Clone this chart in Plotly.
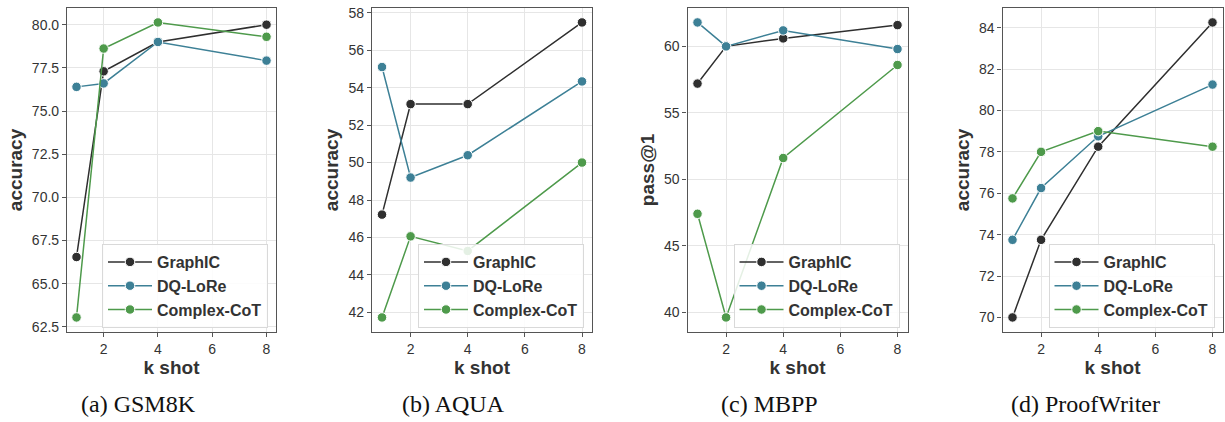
import plotly.graph_objects as go

W, H = 1225, 422

k_shot = [1, 2, 4, 8]
series_names = ["GraphIC", "DQ-LoRe", "Complex-CoT"]
colors = ["#2f2f2f", "#3d8096", "#4e9a4b"]

gsm8k_graphic = [66.55, 77.3, 79.0, 80.0]
gsm8k_dqlore = [76.4, 76.6, 79.0, 77.92]
gsm8k_complex = [63.05, 78.62, 80.13, 79.3]

aqua_graphic = [47.22, 53.12, 53.12, 57.48]
aqua_dqlore = [55.1, 49.2, 50.39, 54.33]
aqua_complex = [41.73, 46.06, 45.28, 50.0]

mbpp_graphic = [57.2, 60.0, 60.6, 61.6]
mbpp_dqlore = [61.8, 60.0, 61.2, 59.8]
mbpp_complex = [47.4, 39.6, 51.6, 58.6]

pw_graphic = [70.0, 73.75, 78.25, 84.25]
pw_dqlore = [73.75, 76.25, 78.75, 81.25]
pw_complex = [75.75, 78.0, 79.0, 78.25]

captions = ["(a) GSM8K", "(b) AQUA", "(c) MBPP", "(d) ProofWriter"]
y_titles = ["accuracy", "accuracy", "pass@1", "accuracy"]
x_tickvals = [2, 4, 6, 8]
y_tick0 = [62.5, 42, 40, 70]
y_dtick = [2.5, 2, 5, 2]
y_fmt = [".1f", "d", "d", "d"]

panels = [
    [gsm8k_graphic, gsm8k_dqlore, gsm8k_complex],
    [aqua_graphic, aqua_dqlore, aqua_complex],
    [mbpp_graphic, mbpp_dqlore, mbpp_complex],
    [pw_graphic, pw_dqlore, pw_complex],
]

# pixel layout of the plot areas
px_left = [67, 372, 687.5, 1002.5]
px_right = [276, 592, 907.5, 1222.5]
px_top, px_bottom = 7.7, 332.2
caption_x = [138.5, 453.5, 769.5, 1085.5]

fig = go.Figure()

for i, vals in enumerate(panels):
    ax = "" if i == 0 else str(i + 1)
    leg = "legend" if i == 0 else f"legend{i + 1}"
    for name, v, c in zip(series_names, vals, colors):
        fig.add_trace(go.Scatter(
            x=k_shot, y=v, name=f"<b>{name}</b>", mode="lines+markers",
            xaxis="x" + ax, yaxis="y" + ax, legend=leg,
            line=dict(color=c, width=1.5),
            marker=dict(color=c, size=9.5, line=dict(color="white", width=1)),
        ))
    allv = [x for s in vals for x in s]
    lo, hi = min(allv), max(allv)
    pad = (hi - lo) * 0.05
    xd = [px_left[i] / W, px_right[i] / W]
    yd = [1 - px_bottom / H, 1 - px_top / H]
    axis_common = dict(
        showline=True, linecolor="#555555", linewidth=1.2, mirror=True,
        showgrid=True, gridcolor="#e6e6e6", gridwidth=1,
        ticks="outside", ticklen=4, tickwidth=1, tickcolor="#555555",
        tickfont=dict(family="Liberation Sans, Arial", size=14, color="#333333"),
        zeroline=False, automargin=False,
    )
    fig.layout["xaxis" + ax] = dict(
        domain=xd, anchor="y" + ax, range=[0.65, 8.35],
        tickvals=x_tickvals,
        title=dict(text="<b>k shot</b>", standoff=4,
                   font=dict(family="Liberation Sans, Arial", size=19, color="#333333")),
        **axis_common,
    )
    fig.layout["yaxis" + ax] = dict(
        domain=yd, anchor="x" + ax, range=[lo - pad, hi + pad],
        tick0=y_tick0[i], dtick=y_dtick[i], tickformat=y_fmt[i],
        title=dict(text=f"<b>{y_titles[i]}</b>", standoff=4,
                   font=dict(family="Liberation Sans, Arial", size=19, color="#333333")),
        **axis_common,
    )
    fig.layout[leg] = dict(
        x=(px_right[i] - 8) / W, y=1 - 328 / H, xanchor="right", yanchor="bottom",
        bgcolor="rgba(255,255,255,0.85)", bordercolor="#d9d9d9", borderwidth=1,
        font=dict(family="Liberation Sans, Arial", size=16, color="#333333"),
        itemwidth=44, tracegroupgap=0,
    )
    fig.add_annotation(
        x=caption_x[i] / W, y=1 - 404 / H, xref="paper", yref="paper",
        text=captions[i], showarrow=False, xanchor="center", yanchor="middle",
        font=dict(family="Liberation Serif, Times New Roman", size=24, color="#111111"),
    )

fig.update_layout(
    width=W, height=H, margin=dict(l=0, r=0, t=0, b=0),
    plot_bgcolor="white", paper_bgcolor="white", showlegend=True,
)

fig.write_html("out.html", config={"displayModeBar": False},
               post_script="document.body.style.margin='0';")
